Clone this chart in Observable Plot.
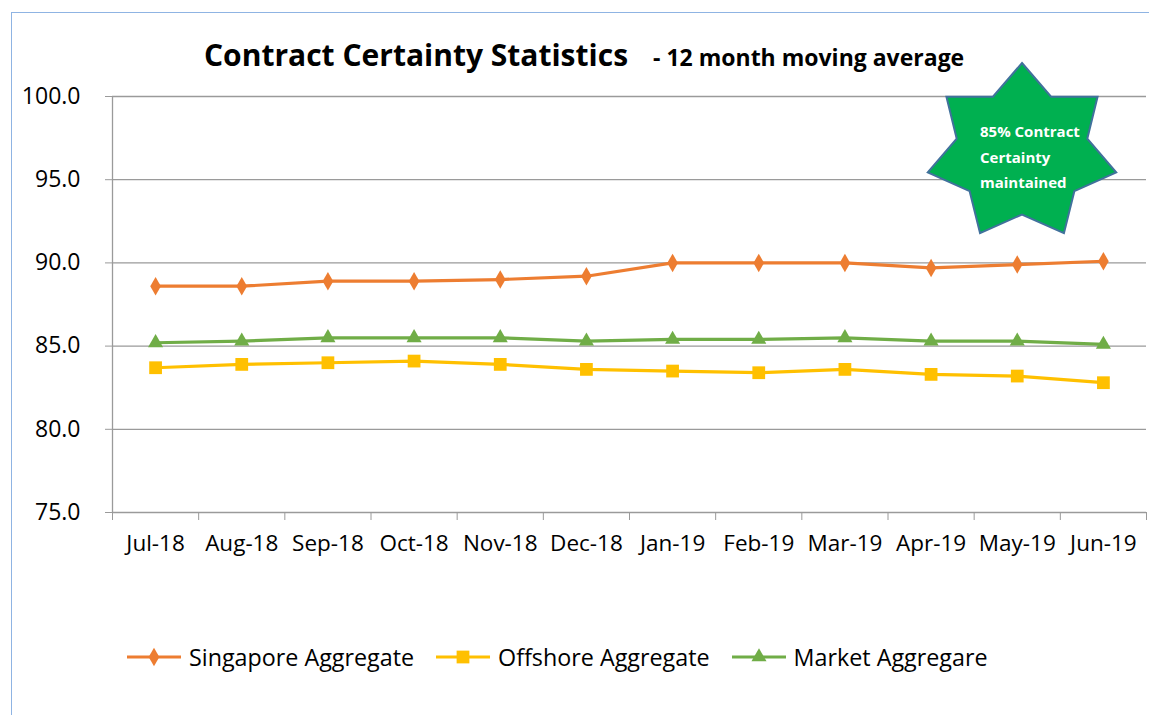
<!DOCTYPE html>
<html><head><meta charset="utf-8">
<script src="https://cdn.jsdelivr.net/npm/d3@7"></script>
<script src="https://cdn.jsdelivr.net/npm/@observablehq/plot@0.6"></script>
<style>
html,body{margin:0;padding:0;background:#fff;}
#wrap{position:relative;width:1149px;height:715px;overflow:hidden;font-family:"Open Sans",Lato,sans-serif;}
#frame{position:absolute;left:11px;top:12px;width:1300px;height:800px;border-left:1.5px solid #8fb4e3;border-top:1.5px solid #8fb4e3;}
#chart{position:absolute;left:0;top:0;}
#title{position:absolute;left:0;width:1149px;top:34px;text-align:left;padding-left:204px;box-sizing:border-box;font-weight:bold;font-size:30px;color:#000;white-space:nowrap;}
#title span{font-size:23px;margin-left:25px;}
#legend{position:absolute;top:641px;left:126px;display:flex;align-items:center;font-size:23.3px;color:#000;white-space:nowrap;}
#legend .item{display:flex;align-items:center;margin-right:21px;}
#legend svg{margin-right:7px;}
#star{position:absolute;left:0;top:0;pointer-events:none;}
</style></head>
<body><div id="wrap">
<div id="frame"></div>
<div id="chart"></div>
<div id="title">Contract Certainty Statistics<span>- 12 month moving average</span></div>
<div id="legend"></div>
</div>
<script>
const months = ["Jul-18","Aug-18","Sep-18","Oct-18","Nov-18","Dec-18","Jan-19","Feb-19","Mar-19","Apr-19","May-19","Jun-19"];
const singapore = [88.6,88.6,88.9,88.9,89.0,89.2,90.0,90.0,90.0,89.7,89.9,90.1];
const offshore  = [83.7,83.9,84.0,84.1,83.9,83.6,83.5,83.4,83.6,83.3,83.2,82.8];
const market    = [85.2,85.3,85.5,85.5,85.5,85.3,85.4,85.4,85.5,85.3,85.3,85.1];
const yTicks = [75,80,85,90,95,100];
const seriesNames = ["Singapore Aggregate","Offshore Aggregate","Market Aggregare"];
const seriesColors = ["#ED7D31","#FFC000","#70AD47"];
const seriesSymbols = ["diamond","square","triangle"];
const seriesR = [5.6,7.2,5.6];
const starText = ["85% Contract","Certainty","maintained"];

const allSeries = [singapore, offshore, market];
const rows = allSeries.map((vals, s) => vals.map((v, i) => ({i, v, s})));

const marks = [
  Plot.ruleY(yTicks.slice(1), {stroke:"#9a9a9a", strokeWidth:1.3}),
  Plot.axisY({ticks: yTicks, tickFormat: d3.format(".1f"), tickSize: 7, tickPadding: 25, stroke:"#9a9a9a", fontSize: 23, label: null}),
  Plot.ruleX([0], {x: () => -0.5, stroke:"#9a9a9a", strokeWidth:1.3}),
  Plot.ruleY([75], {stroke:"#9a9a9a", strokeWidth:1.3}),
  Plot.axisX({ticks: d3.range(13).map(k => k - 0.5), tickFormat: () => "", tickSize: 8, stroke:"#9a9a9a", label: null}),
  Plot.axisX({ticks: d3.range(12), tickFormat: i => months[i], tickSize: 0, tickPadding: 23, fontSize: 22.5, label: null})
];
rows.forEach((data, s) => {
  marks.push(Plot.line(data, {x: "i", y: "v", stroke: seriesColors[s], strokeWidth: 3.2}));
  marks.push(Plot.dot(data, {x: "i", y: "v", fill: seriesColors[s], stroke: "none", symbol: seriesSymbols[s], r: seriesR[s]}));
});

const chart = Plot.plot({
  width: 1149, height: 600,
  marginLeft: 112, marginRight: 3, marginTop: 96, marginBottom: 88,
  style: {fontFamily: "'Open Sans', Lato, sans-serif", color: "#000", background: "transparent"},
  x: {domain: [-0.5, 11.5]},
  y: {domain: [75, 100]},
  marks
});
document.getElementById("chart").appendChild(chart);

// legend
const legend = document.getElementById("legend");
seriesNames.forEach((name, s) => {
  const item = document.createElement("div");
  item.className = "item";
  const sym = d3.symbol(s === 0 ? d3.symbolDiamond : s === 1 ? d3.symbolSquare : d3.symbolTriangle, Math.PI * seriesR[s] * seriesR[s])();
  item.innerHTML = `<svg width="56" height="20"><line x1="1" x2="55" y1="10" y2="10" stroke="${seriesColors[s]}" stroke-width="3.2"/><path transform="translate(28,10)" d="${sym}" fill="${seriesColors[s]}"/></svg><span>${name}</span>`;
  legend.appendChild(item);
});

// star annotation (7-pointed)
const cx = 1022, cy = 152.5, R = 89.5, r = 62, sx = 1.08;
const pts = [];
for (let k = 0; k < 14; k++) {
  const a = k * Math.PI / 7;
  const rad = k % 2 === 0 ? R : r;
  pts.push([cx + sx * rad * Math.sin(a), cy - rad * Math.cos(a)]);
}
const starSvg = d3.create("svg").attr("id","star").attr("width",1149).attr("height",715);
starSvg.append("polygon").attr("points", pts.map(p => p.join(",")).join(" "))
  .attr("fill","#00B050").attr("stroke","#41719C").attr("stroke-width",2);
starSvg.append("g").selectAll("text").data(starText).join("text")
  .attr("x", 980).attr("y", (d, i) => 137 + i * 25.5)
  .attr("fill","#fff").attr("font-weight","bold").attr("font-size",15)
  .attr("font-family","'Open Sans', Lato, sans-serif")
  .text(d => d);
document.getElementById("wrap").appendChild(starSvg.node());
</script>
</body></html>
